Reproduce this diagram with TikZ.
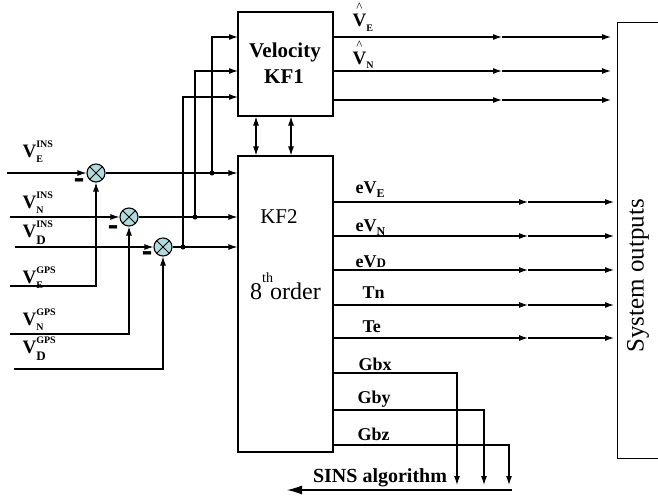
\documentclass[tikz,border=0pt]{standalone}
\usepackage{fontspec}
\usepackage{graphicx}
\setmainfont{Liberation Serif}
\usetikzlibrary{arrows.meta}
\definecolor{sumfill}{RGB}{176,220,222}
\newcommand{\myVlab}[4]{{\fontsize{19}{19}\selectfont\bfseries V}\rlap{\raisebox{10pt}{\fontsize{10}{10}\selectfont\bfseries #2}}\raisebox{-#4}{\fontsize{#3}{#3}\selectfont\bfseries #1}}
\newcommand{\myHatV}[1]{{\fontsize{19}{19}\selectfont\bfseries V}\llap{\makebox[13.7pt][c]{\raisebox{15pt}{\fontsize{13}{13}\selectfont \textasciicircum}}}\raisebox{-5pt}{\fontsize{10}{10}\selectfont\bfseries #1}}
\begin{document}
\begin{tikzpicture}[x=1pt,y=-1pt,line width=1.1pt,
  arr/.style={-{Latex[length=9pt,width=6pt]}},
  darr/.style={{Latex[length=9pt,width=6pt]}-{Latex[length=9pt,width=6pt]}},
  box/.style={draw, line width=1.1pt, inner sep=0},
  sumj/.style={circle, draw, fill=sumfill, minimum size=18pt, inner sep=0,
    path picture={\draw[line width=0.9pt] (path picture bounding box.north west)--(path picture bounding box.south east) (path picture bounding box.north east)--(path picture bounding box.south west);}},
  dot/.style={circle, fill, inner sep=0, minimum size=5pt},
  lbl/.style={anchor=base west, inner sep=0, font=\fontsize{18}{18}\selectfont\bfseries},
  vlbl/.style={anchor=base west, inner sep=0},
  minus/.style={inner sep=0, font=\fontsize{16}{16}\selectfont\bfseries}
]
\useasboundingbox (0,0) rectangle (658,495);
\clip (0,0) rectangle (658,495);

% boxes
\node[box, minimum width=95pt, minimum height=104pt] (kf1) at (285.5,64) {};
\node[box, minimum width=95pt, minimum height=296pt] (kf2) at (285.5,304) {};
\node[box, minimum width=60pt, minimum height=436pt, anchor=north west] (sys) at (617,22) {};

\node[anchor=base, inner sep=0, font=\fontsize{21}{21}\selectfont\bfseries] (kf1a) at (285,58) {Velocity};
\node[anchor=base, inner sep=0, font=\fontsize{21}{21}\selectfont\bfseries] (kf1b) at (284,83) {KF1};
\node[anchor=base, inner sep=0, font=\fontsize{21}{21}\selectfont] (kf2a) at (279,223) {KF2};
\node[anchor=base, inner sep=0, font=\fontsize{24}{24}\selectfont] (kf2b) at (285.5,299) {8\rlap{\raisebox{17pt}{\fontsize{14}{14}\selectfont th}}\hspace{8pt}order};
\node[rotate=90, inner sep=0, font=\fontsize{25}{25}\selectfont] (syst) at (638,276) {System outputs};

% summing junctions
\node[sumj] (s1) at (96,173) {};
\node[sumj] (s2) at (129,217) {};
\node[sumj] (s3) at (163,247) {};
\node[minus] (m1) at (79,185) {\scalebox{1}[3]{–}};
\node[minus] (m2) at (113,232) {\scalebox{1}[3]{–}};
\node[minus] (m3) at (147,258) {\scalebox{1}[3]{–}};

% inputs
\coordinate (i1) at (7,173);
\coordinate (i2) at (10,217);
\coordinate (i3) at (15,247);
\coordinate (g1) at (10,286);
\coordinate (g2) at (10,334);
\coordinate (g3) at (14,369);
\draw[arr] (i1) -- (s1);
\draw[arr] (i2) -- (s2);
\draw[arr] (i3) -- (s3);
\draw[arr] (g1) -| (s1.south);
\draw[arr] (g2) -| (s2.south);
\draw[arr] (g3) -| (s3.south);

\node[vlbl] (lvei) at (22,157) {\myVlab{E}{INS}{10}{5pt}};
\node[vlbl] (lvni) at (22,208) {\myVlab{N}{INS}{10}{5pt}};
\node[vlbl] (lvdi) at (22,237) {\myVlab{D}{INS}{13}{7pt}};
\node[vlbl] (lveg) at (22,283) {\myVlab{E}{GPS}{10}{5pt}};
\node[vlbl] (lvng) at (22,325) {\myVlab{N}{GPS}{10}{5pt}};
\node[vlbl] (lvdg) at (22,353) {\myVlab{D}{GPS}{13}{7pt}};

% junction outputs to KF2 and KF1
\node[dot] (d1) at (212,173) {};
\node[dot] (d2) at (195,217) {};
\node[dot] (d3) at (183,247) {};
\draw[arr] (s1) -- (kf2.west |- s1);
\draw[arr] (s2) -- (kf2.west |- s2);
\draw[arr] (s3) -- (kf2.west |- s3);
\coordinate (k1) at (238,37);
\coordinate (k2) at (238,71);
\coordinate (k3) at (238,97);
\draw[arr] (d1.center) |- (k1);
\draw[arr] (d2.center) |- (k2);
\draw[arr] (d3.center) |- (k3);

% KF1 <-> KF2
\draw[darr] (kf1.south -| 256,0) -- (kf2.north -| 256,0);
\draw[darr] (kf1.south -| 291,0) -- (kf2.north -| 291,0);

% KF1 outputs
\foreach \yy/\nm in {37/a,71/b,100/c}{
  \coordinate (om\nm) at (502,\yy);
  \coordinate (oe\nm) at (611,\yy);
  \draw[arr] (kf1.east |- om\nm) -- (om\nm);
  \draw[arr] (om\nm) -- (oe\nm);
}
\node[vlbl] (lhve) at (352,27) {\myHatV{E}};
\node[vlbl] (lhvn) at (352,64) {\myHatV{N}};

% KF2 outputs
\foreach \yy/\nm in {202/a,236/b,270/c,305/d,338/e}{
  \coordinate (pm\nm) at (528,\yy);
  \coordinate (pe\nm) at (614,\yy);
  \draw[arr] (kf2.east |- pm\nm) -- (pm\nm);
  \draw[arr] (pm\nm) -- (pe\nm);
}
\node[lbl] (leve) at (355,193) {eV\raisebox{-4pt}{\fontsize{12}{12}\selectfont E}};
\node[lbl] (levn) at (355,231) {eV\raisebox{-4pt}{\fontsize{12}{12}\selectfont N}};
\node[lbl] (levd) at (355,267) {eV{\fontsize{13}{13}\selectfont D}};
\node[lbl] (ltn) at (362,298) {Tn};
\node[lbl] (lte) at (362,332) {Te};
\node[lbl] (lgx) at (358,370) {Gbx};
\node[lbl] (lgy) at (357,403) {Gby};
\node[lbl] (lgz) at (357,440) {Gbz};

% Gyro bias outputs to SINS
\coordinate (gx) at (457,485);
\coordinate (gy) at (484,485);
\coordinate (gz) at (509,485);
\draw[arr] (kf2.east |- 0,373) -| (gx);
\draw[arr] (kf2.east |- 0,410) -| (gy);
\draw[arr] (kf2.east |- 0,445) -| (gz);
\coordinate (sa) at (512,490);
\coordinate (sb) at (287,490);
\draw[-{Latex[length=15pt,width=9pt]}] (sa) -- (sb);
\node[anchor=base, inner sep=0, font=\fontsize{20}{20}\selectfont\bfseries] (sins) at (380,482) {SINS algorithm};
\end{tikzpicture}
\end{document}
